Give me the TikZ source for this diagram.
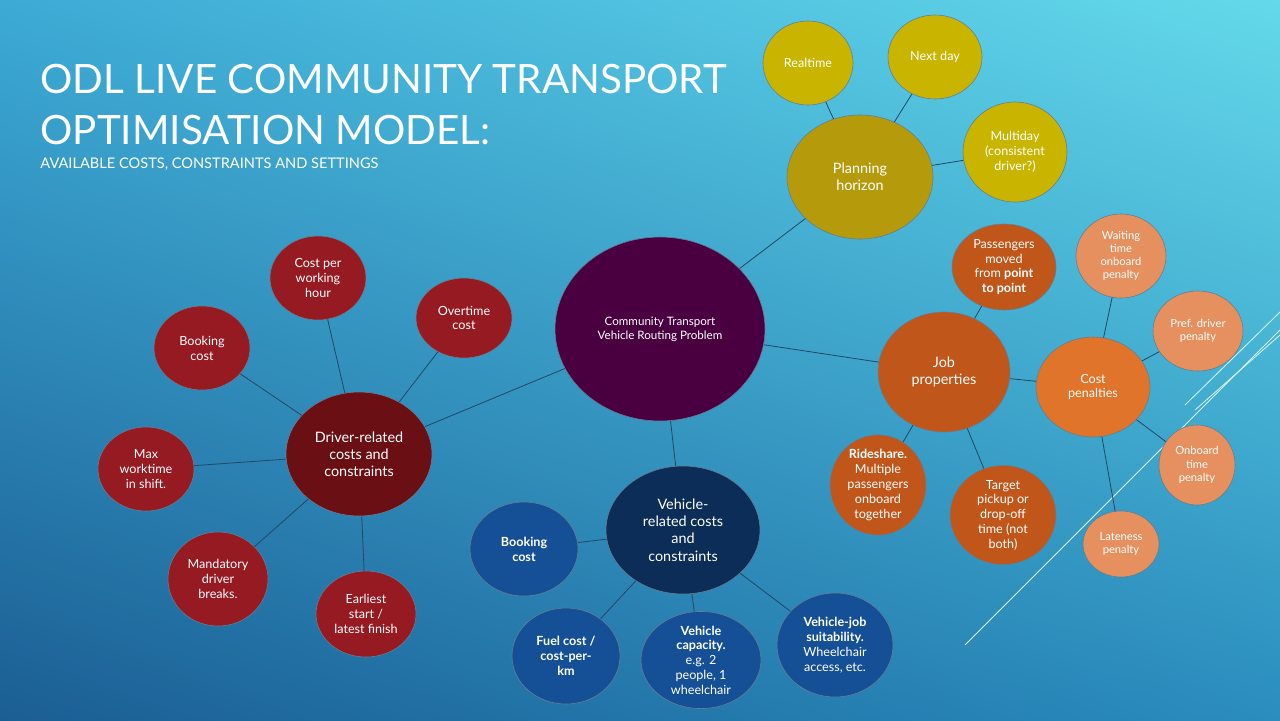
\documentclass[tikz,border=0pt]{standalone}
\usepackage{fontspec}
\setmainfont{Lato}
\usetikzlibrary{shapes.geometric,shadings}
\definecolor{bgtl}{HTML}{3CAAD5}
\definecolor{bgtr}{HTML}{64D9EA}
\definecolor{bgbl}{HTML}{1B5E94}
\definecolor{bgbr}{HTML}{2A8DBE}
\definecolor{cpurple}{HTML}{4A0040}
\definecolor{cgold}{HTML}{B59A0B}
\definecolor{cyel}{HTML}{C9B400}
\definecolor{corgd}{HTML}{C0561A}
\definecolor{corg}{HTML}{E0742A}
\definecolor{cpeach}{HTML}{E5905E}
\definecolor{cdred}{HTML}{6A0F14}
\definecolor{cred}{HTML}{951A22}
\definecolor{cdblue}{HTML}{0C2D57}
\definecolor{cblue}{HTML}{154F96}
\definecolor{edgec}{HTML}{234766}
\tikzset{
  bub/.style={ellipse, draw=edgec!70, line width=0.3pt, text=white, align=center, inner sep=0pt, font=\fontsize{6.3}{7.4}\selectfont},
  link/.style={draw=edgec, line width=0.4pt},
}
\begin{document}
\begin{tikzpicture}[x=0.5pt,y=-0.5pt]
\shade[upper left=bgtl, upper right=bgtr, lower left=bgbl, lower right=bgbr] (0,0) rectangle (1280,720);
\useasboundingbox (0,0) rectangle (1280,720);
% decorative lines
\foreach \a/\b/\c/\d in {965/645/1280/330, 1185/405/1280/312, 1195/410/1280/335}
  \draw[white!85!cyan, line width=0.4pt] (\a,\b) -- (\c,\d);
% title
\node[anchor=base west, text=white, inner sep=0, font=\fontsize{20.2}{24}\selectfont] (t1) at (40,93) {ODL LIVE COMMUNITY TRANSPORT};
\node[anchor=base west, text=white, inner sep=0, font=\fontsize{20.2}{24}\selectfont] (t2) at (40,144) {OPTIMISATION MODEL:};
\node[anchor=base west, text=white, inner sep=0, font=\fontsize{7.3}{9}\selectfont] (t3) at (40,168) {AVAILABLE COSTS, CONSTRAINTS AND SETTINGS};
% nodes
\node[bub, fill=cpurple, minimum width=105pt, minimum height=92pt, font=\fontsize{5.8}{7}\selectfont] (c) at (660,329) {Community Transport\\Vehicle Routing Problem};
\node[bub, fill=cgold, minimum width=73pt, minimum height=62pt, font=\fontsize{7.2}{8.6}\selectfont] (ph) at (860,177) {Planning\\horizon};
\node[bub, fill=cyel, minimum width=45pt, minimum height=42pt] (rt) at (808,63) {Realtime};
\node[bub, fill=cyel, minimum width=47pt, minimum height=42pt] (nd) at (935,57) {Next day};
\node[bub, fill=cyel, minimum width=52pt, minimum height=50pt] (md) at (1015,152) {Multiday\\(consistent\\driver?)};
\node[bub, fill=corgd, minimum width=66pt, minimum height=60pt, font=\fontsize{7.2}{8.6}\selectfont] (jp) at (944,372) {Job\\properties};
\node[bub, fill=corgd, minimum width=52pt, minimum height=43pt] (pm) at (1004,267) {Passengers\\moved\\from \textbf{point}\\\textbf{to point}};
\node[bub, fill=corgd, minimum width=48pt, minimum height=42pt] (rs) at (878,485) {\textbf{Rideshare.}\\Multiple\\passengers\\onboard\\together};
\node[bub, fill=corgd, minimum width=53pt, minimum height=48pt] (tp) at (1003,515) {Target\\pickup or\\drop-off\\time (not\\both)};
\node[bub, fill=corg, minimum width=57pt, minimum height=50pt] (cp) at (1093,387) {Cost\\penalties};
\node[bub, fill=cpeach, minimum width=45pt, minimum height=42pt, font=\fontsize{5.6}{6.6}\selectfont] (wt) at (1121,256) {Waiting\\time\\onboard\\penalty};
\node[bub, fill=cpeach, minimum width=45pt, minimum height=40pt, font=\fontsize{5.6}{6.6}\selectfont] (pd) at (1198,331) {Pref. driver\\penalty};
\node[bub, fill=cpeach, minimum width=38pt, minimum height=40pt, font=\fontsize{5.6}{6.6}\selectfont] (ot) at (1197,465) {Onboard\\time\\penalty};
\node[bub, fill=cpeach, minimum width=38pt, minimum height=33pt, font=\fontsize{5.6}{6.6}\selectfont] (lt) at (1121,544) {Lateness\\penalty};
\node[bub, fill=cdred, minimum width=73pt, minimum height=62pt, font=\fontsize{7.2}{8.6}\selectfont] (dr) at (359,454) {Driver-related\\costs and\\constraints};
\node[bub, fill=cred, minimum width=48pt, minimum height=42pt] (cw) at (318,278) {Cost per\\working\\hour};
\node[bub, fill=cred, minimum width=48pt, minimum height=40pt] (oc) at (464,318) {Overtime\\cost};
\node[bub, fill=cred, minimum width=48pt, minimum height=42pt] (bc) at (202,348) {Booking\\cost};
\node[bub, fill=cred, minimum width=48pt, minimum height=42pt] (mw) at (146,469) {Max\\worktime\\in shift.};
\node[bub, fill=cred, minimum width=50pt, minimum height=47pt] (mb) at (218,579) {Mandatory\\driver\\breaks.};
\node[bub, fill=cred, minimum width=50pt, minimum height=43pt] (es) at (366,614) {Earliest\\start /\\latest finish};
\node[bub, fill=cdblue, minimum width=77pt, minimum height=64pt, font=\fontsize{7.2}{8.6}\selectfont] (vr) at (683,530) {Vehicle-\\related costs\\and\\constraints};
\node[bub, fill=cblue, minimum width=54pt, minimum height=47pt] (vb) at (524,549) {\textbf{Booking}\\\textbf{cost}};
\node[bub, fill=cblue, minimum width=54pt, minimum height=48pt] (fc) at (566,656) {\textbf{Fuel cost /}\\\textbf{cost-per-}\\\textbf{km}};
\node[bub, fill=cblue, minimum width=60pt, minimum height=46pt] (vc) at (701,660) {\textbf{Vehicle}\\\textbf{capacity.}\\e.g. 2\\people, 1\\wheelchair};
\node[bub, fill=cblue, minimum width=58pt, minimum height=52pt] (vj) at (835,645) {\textbf{Vehicle-job}\\\textbf{suitability.}\\Wheelchair\\access, etc.};
% links
\foreach \a/\b in {c/ph, c/jp, c/dr, c/vr, ph/rt, ph/nd, ph/md, jp/pm, jp/rs, jp/tp, jp/cp, cp/wt, cp/pd, cp/ot, cp/lt, dr/cw, dr/oc, dr/bc, dr/mw, dr/mb, dr/es, vr/vb, vr/fc, vr/vc, vr/vj}
  \draw[link] (\a) -- (\b);
\end{tikzpicture}
\end{document}
